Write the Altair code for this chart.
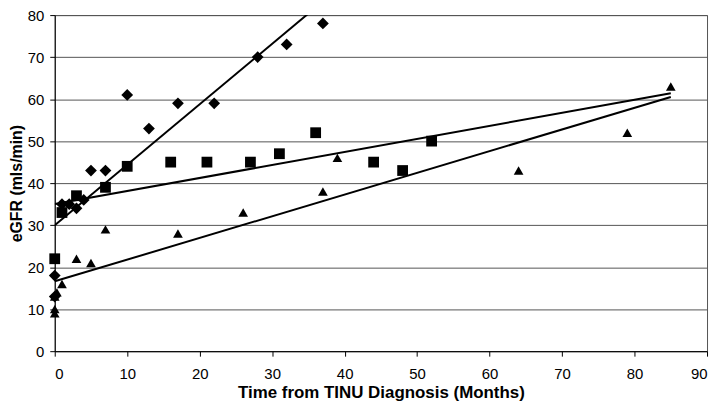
import altair as alt
import pandas as pd

# Series A (diamonds)
a_x = [0, 0, 1, 2, 3, 4, 5, 7, 10, 13, 17, 22, 28, 32, 37]
a_y = [18, 13, 35, 35, 34, 36, 43, 43, 61, 53, 59, 59, 70, 73, 78]
# Series B (squares)
b_x = [0, 1, 3, 7, 10, 16, 21, 27, 31, 36, 44, 48, 52]
b_y = [22, 33, 37, 39, 44, 45, 45, 45, 47, 52, 45, 43, 50]
# Series C (triangles)
c_x = [0, 0, 0, 0.3, 1, 3, 5, 7, 17, 26, 37, 39, 64, 79, 85]
c_y = [9, 10, 13, 14, 16, 22, 21, 29, 28, 33, 38, 46, 43, 52, 63]

series_names = ["A", "B", "C"]
shapes = ["diamond", "square", "triangle-up"]
marker_sizes = [140, 95, 150]
x_ticks = list(range(0, 91, 10))
y_ticks = list(range(0, 81, 10))

rows = []
for name, xs, ys in zip(series_names, [a_x, b_x, c_x], [a_y, b_y, c_y]):
    for xv, yv in zip(xs, ys):
        rows.append({"series": name, "x": xv, "y": yv})
df = pd.DataFrame(rows)

FONT = "Liberation Sans, Arial, sans-serif"

x_enc = alt.X(
    "x:Q",
    scale=alt.Scale(domain=[0, 90], nice=False),
    axis=alt.Axis(
        values=x_ticks,
        title="Time from TINU Diagnosis (Months)",
        grid=False,
        tickSize=5,
        labelPadding=10,
        titlePadding=4,
        titleFontSize=17,
    ),
)
y_enc = alt.Y(
    "y:Q",
    scale=alt.Scale(domain=[0, 80], nice=False),
    axis=alt.Axis(
        values=y_ticks,
        title="eGFR (mls/min)",
        grid=True,
        tickSize=5,
        labelPadding=6,
        titlePadding=3,
        titleFontSize=16,
    ),
)

points = alt.Chart(df).mark_point(filled=True, color="black", opacity=1).encode(
    x=x_enc,
    y=y_enc,
    shape=alt.Shape("series:N", scale=alt.Scale(domain=series_names, range=shapes), legend=None),
    size=alt.Size("series:N", scale=alt.Scale(domain=series_names, range=marker_sizes), legend=None),
)

lines = (
    alt.Chart(df)
    .transform_regression("x", "y", groupby=["series"], extent=[0, 85])
    .mark_line(color="black", strokeWidth=2, clip=True)
    .encode(x="x:Q", y="y:Q", detail="series:N")
)

chart = (
    alt.layer(points, lines)
    .properties(
        width=656,
        height=338,
        autosize=alt.AutoSizeParams(type="none"),
        padding={"left": 47, "top": 6, "right": 5, "bottom": 51},
    )
    .configure_view(stroke="#555", strokeWidth=1)
    .configure_axis(
        labelFont=FONT,
        titleFont=FONT,
        labelFontSize=15,
        titleFontWeight="bold",
        labelColor="black",
        titleColor="black",
        domainColor="black",
        tickColor="black",
        gridColor="#555",
        gridWidth=1,
    )
)

chart.save("out.html", embed_options={"renderer": "svg", "actions": False})
